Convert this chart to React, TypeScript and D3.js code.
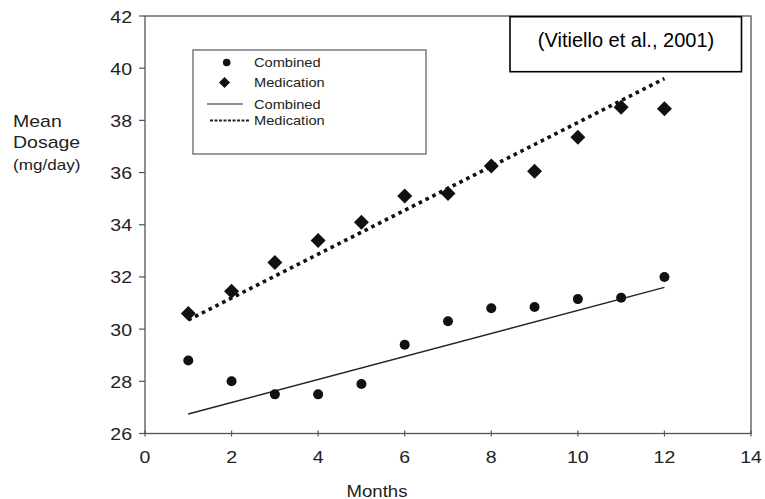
import * as d3 from "d3";

const months = [1, 2, 3, 4, 5, 6, 7, 8, 9, 10, 11, 12];
const combined = [28.8, 28.0, 27.5, 27.5, 27.9, 29.4, 30.3, 30.8, 30.85, 31.15, 31.2, 32.0];
const medication = [30.6, 31.45, 32.55, 33.4, 34.1, 35.1, 35.2, 36.25, 36.05, 37.35, 38.5, 38.45];

// fitted trend lines, read at month 1 and month 12
const trendMonths = [1, 12];
const combinedTrend = [26.75, 31.6];
const medicationTrend = [30.35, 39.6];

const xTicks = [0, 2, 4, 6, 8, 10, 12, 14];
const yTicks = [26, 28, 30, 32, 34, 36, 38, 40, 42];

const legendLabels = ["Combined", "Medication", "Combined", "Medication"];
const citation = "(Vitiello et al., 2001)";

const W = 765;
const H = 499;
const FONT = "'Liberation Sans', Arial, sans-serif";
const SX = 1.22; // the scan's text is stretched sideways

function Txt({ x, y, size, anchor = "start", sx = SX, children }: any) {
  return (
    <text
      transform={`translate(${x},${y}) scale(${sx},1)`}
      fontSize={size}
      fontFamily={FONT}
      textAnchor={anchor}
      fill="#222"
    >
      {children}
    </text>
  );
}

function Diamond({ cx, cy, r }: { cx: number; cy: number; r: number }) {
  const p = `M${cx},${cy - r}L${cx + r},${cy}L${cx},${cy + r}L${cx - r},${cy}Z`;
  return <path d={p} fill="#111" />;
}

export default function App() {
  const x = d3.scaleLinear().domain([0, 14]).range([145, 751]);
  const y = d3.scaleLinear().domain([26, 42]).range([433.5, 16]);

  const line = d3
    .line<number>()
    .x((_, i) => x(trendMonths[i]))
    .y((d) => y(d));

  const x0 = x(0);
  const x1 = x(14);
  const y0 = y(26);
  const y1 = y(42);

  const lg = { x: 193, y: 50, w: 233, h: 104 };
  const rows = [62.5, 82.5, 104, 120.5];

  return (
    <div style={{ position: "absolute", left: 0, top: 0 }}>
      <svg width={W} height={H} style={{ display: "block", background: "#fff" }}>
        {/* frame */}
        <rect x={x0} y={y1} width={x1 - x0} height={y0 - y1} fill="none" stroke="#555" strokeWidth={1.3} />

        {/* y axis ticks + labels */}
        {yTicks.map((t) => (
          <g key={"y" + t}>
            <line x1={x0 - 6} x2={x0} y1={y(t)} y2={y(t)} stroke="#555" strokeWidth={1.2} />
            <Txt x={132} y={y(t) + 6.5} size={16} anchor="end">
              {t}
            </Txt>
          </g>
        ))}

        {/* x axis ticks + labels */}
        {xTicks.map((t) => (
          <g key={"x" + t}>
            <line x1={x(t)} x2={x(t)} y1={y0 - 3} y2={y0 + 3} stroke="#555" strokeWidth={1.2} />
            <Txt x={x(t)} y={463} size={16} anchor="middle">
              {t}
            </Txt>
          </g>
        ))}

        <Txt x={377} y={496.5} size={16} anchor="middle" sx={1.16}>
          Months
        </Txt>

        <Txt x={13} y={127} size={16}>Mean</Txt>
        <Txt x={13} y={148} size={16}>Dosage</Txt>
        <Txt x={13} y={170} size={14}>(mg/day)</Txt>

        {/* trend lines */}
        <path d={line(combinedTrend) || ""} fill="none" stroke="#222" strokeWidth={1.5} />
        <path
          d={line(medicationTrend) || ""}
          fill="none"
          stroke="#111"
          strokeWidth={3.6}
          strokeDasharray="3.6 4"
        />

        {/* points */}
        {months.map((m, i) => (
          <circle key={"c" + m} cx={x(m)} cy={y(combined[i])} r={5} fill="#111" />
        ))}
        {months.map((m, i) => (
          <Diamond key={"d" + m} cx={x(m)} cy={y(medication[i])} r={7.5} />
        ))}

        {/* legend */}
        <rect x={lg.x} y={lg.y} width={lg.w} height={lg.h} fill="#fff" stroke="#666" strokeWidth={1.3} />
        <circle cx={226.7} cy={rows[0]} r={3.8} fill="#111" />
        <Diamond cx={224.5} cy={rows[1]} r={5.5} />
        <line x1={207} x2={243} y1={rows[2]} y2={rows[2]} stroke="#222" strokeWidth={1.2} />
        <line x1={210} x2={250} y1={rows[3]} y2={rows[3]} stroke="#222" strokeWidth={1.8} strokeDasharray="3 1.5" />
        {legendLabels.map((l, i) => (
          <Txt key={"l" + i} x={254} y={rows[i] + 4.5} size={12.5} sx={1.17}>
            {l}
          </Txt>
        ))}

        {/* citation box */}
        <rect x={510} y={16.7} width={231.5} height={55} fill="#fff" stroke="#000" strokeWidth={1.6} />
        <text x={626} y={47} fontSize={20} fontFamily={FONT} textAnchor="middle" fill="#000">
          {citation}
        </text>
      </svg>
    </div>
  );
}
